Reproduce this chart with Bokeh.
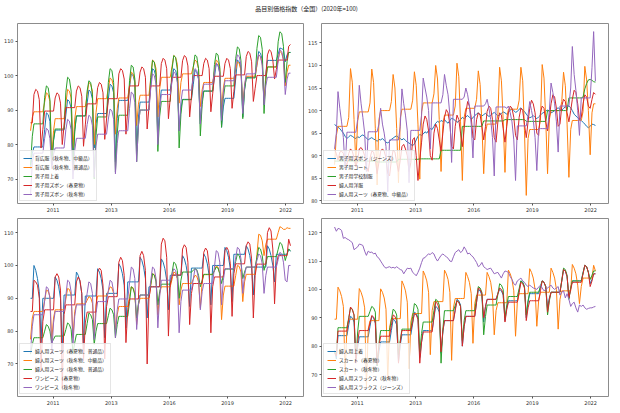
import pandas as pd
from bokeh.plotting import figure
from bokeh.models import Range1d, FixedTicker, Legend, LegendItem, Div
from bokeh.layouts import column, row
from bokeh.embed import file_html
from bokeh.resources import INLINE

# ---------------- data ----------------
months = pd.date_range("2010-01-01", periods=148, freq="MS")
x_days = [int(v) for v in (months - pd.Timestamp("1970-01-01")).days]

tick_days = [15000, 16000, 17000, 18000, 19000]
tick_labels = ["2011", "2013", "2016", "2019", "2022"]

title_text = "品目別価格指数（全国）(2020年=100)"

# --- top left ---
tl_names = ["背広服（秋冬物、中級品）", "背広服（秋冬物、普通品）", "男子用上着",
            "男子用ズボン（春夏物）", "男子用ズボン（秋冬物）"]
suit_aw_mid = [
    73.0, 77.4, 79.3, 79.3, 79.3, 79.3, 79.3, 79.3, 84.3, 89.2, 88.7, 86.7,
    74.0, 81.1, 84.2, 84.2, 84.2, 84.2, 84.2, 84.2, 88.6, 93.0, 92.5, 90.5,
    75.0, 84.3, 88.3, 88.3, 88.3, 88.3, 88.3, 88.3, 92.0, 95.8, 95.3, 93.3,
    79.0, 86.0, 89.0, 89.0, 89.0, 89.0, 89.0, 89.0, 93.2, 97.5, 97.0, 95.0,
    75.0, 87.5, 92.8, 92.8, 92.8, 92.8, 92.8, 92.8, 96.6, 100.5, 100.0, 98.0,
    78.0, 88.0, 92.3, 92.3, 92.3, 92.3, 92.3, 92.3, 97.1, 102.0, 101.5, 99.5,
    82.0, 91.7, 95.8, 95.8, 95.8, 95.8, 95.8, 95.8, 98.9, 102.0, 101.5, 99.5,
    84.0, 90.4, 93.1, 93.1, 93.1, 93.1, 93.1, 93.1, 97.3, 101.5, 101.0, 99.0,
    86.0, 92.7, 95.5, 95.5, 95.5, 95.5, 95.5, 95.5, 99.5, 103.5, 103.0, 101.0,
    85.0, 90.9, 93.4, 93.4, 93.4, 93.4, 93.4, 93.4, 99.0, 104.5, 104.0, 102.0,
    88.0, 96.1, 99.5, 99.5, 99.5, 99.5, 99.5, 99.5, 103.3, 107.0, 106.5, 104.5,
    91.5, 100.5, 104.4, 104.4, 104.4, 104.4, 104.4, 104.4, 106.2, 108.0, 107.8, 107.5,
    104.0, 106.0, 106.7, 106.7]
suit_aw_std = [
    84.0, 87.9, 89.5, 89.5, 89.5, 89.5, 89.5, 89.5, 92.3, 95.0, 94.5, 92.5,
    76.0, 84.0, 87.5, 87.5, 87.5, 87.5, 87.5, 87.5, 91.8, 96.0, 95.5, 93.5,
    79.0, 87.4, 91.0, 91.0, 91.0, 91.0, 91.0, 91.0, 94.5, 98.0, 97.5, 95.5,
    80.0, 89.3, 93.3, 93.3, 93.3, 93.3, 93.3, 93.3, 96.3, 99.3, 98.8, 96.8,
    83.0, 90.4, 93.5, 93.5, 93.5, 93.5, 93.5, 93.5, 97.3, 101.0, 100.5, 98.5,
    85.5, 91.7, 94.3, 94.3, 94.3, 94.3, 94.3, 94.3, 99.4, 104.5, 104.0, 102.0,
    88.0, 96.2, 99.5, 99.5, 99.5, 99.5, 99.5, 99.5, 102.7, 105.8, 105.3, 103.3,
    92.0, 98.0, 100.5, 100.5, 100.5, 100.5, 100.5, 100.5, 102.5, 104.5, 104.0, 102.0,
    91.0, 95.9, 98.0, 98.0, 98.0, 98.0, 98.0, 98.0, 101.3, 104.5, 104.0, 102.0,
    90.0, 96.4, 99.2, 99.2, 99.2, 99.2, 99.2, 99.2, 101.6, 104.0, 103.5, 101.5,
    91.0, 97.2, 99.8, 99.8, 99.8, 99.8, 99.8, 99.8, 102.9, 106.0, 105.5, 103.5,
    92.0, 99.4, 102.5, 102.5, 102.5, 102.5, 102.5, 102.5, 104.8, 107.0, 106.5, 104.5,
    97.0, 101.0, 103.0, 103.0]
mens_jacket = [
    74.0, 82.4, 86.0, 86.0, 86.0, 86.0, 86.0, 86.0, 93.7, 97.0, 96.5, 93.0,
    74.0, 81.4, 84.5, 84.5, 84.5, 84.5, 84.5, 84.5, 95.2, 99.5, 99.0, 95.5,
    73.0, 83.7, 88.3, 88.3, 88.3, 88.3, 88.3, 88.3, 95.5, 98.5, 98.0, 94.5,
    70.0, 82.6, 88.0, 88.0, 88.0, 88.0, 88.0, 88.0, 98.0, 102.0, 101.5, 98.0,
    72.0, 83.2, 88.5, 88.5, 88.5, 88.5, 88.5, 88.5, 98.6, 103.0, 102.5, 99.0,
    75.0, 85.5, 90.0, 90.0, 90.0, 90.0, 90.0, 90.0, 99.4, 104.4, 103.9, 100.4,
    78.0, 88.2, 92.5, 92.5, 92.5, 92.5, 92.5, 92.5, 101.8, 105.8, 105.3, 101.8,
    79.0, 88.8, 93.0, 93.0, 93.0, 93.0, 93.0, 93.0, 102.3, 106.0, 105.5, 102.0,
    82.5, 91.6, 95.5, 95.5, 95.5, 95.5, 95.5, 95.5, 103.2, 106.5, 106.0, 102.5,
    85.0, 93.4, 97.0, 97.0, 97.0, 97.0, 97.0, 97.0, 104.9, 108.3, 107.8, 104.3,
    87.5, 95.8, 99.3, 99.3, 99.3, 99.3, 99.3, 99.3, 107.9, 111.6, 111.1, 107.6,
    89.0, 98.5, 102.5, 102.5, 102.5, 102.5, 102.5, 102.5, 109.8, 112.7, 112.2, 108.5,
    98.0, 104.0, 106.7, 106.7]
mens_trousers_ss = [
    86.3, 86.3, 94.5, 96.0, 95.5, 93.0, 79.0, 84.4, 89.7, 89.7, 89.7, 89.7,
    89.7, 89.7, 93.5, 95.0, 94.5, 92.0, 80.0, 85.4, 90.7, 90.7, 90.7, 90.7,
    90.7, 90.7, 95.5, 97.0, 96.5, 94.0, 79.5, 85.7, 91.8, 91.8, 91.8, 91.8,
    91.8, 91.8, 96.5, 98.0, 97.5, 95.0, 81.5, 87.4, 93.3, 93.3, 93.3, 93.3,
    93.3, 93.3, 100.5, 102.0, 101.5, 99.0, 83.0, 90.0, 97.0, 97.0, 97.0, 97.0,
    97.0, 97.0, 101.0, 102.5, 102.0, 99.5, 84.5, 90.8, 97.0, 97.0, 97.0, 97.0,
    97.0, 97.0, 103.5, 105.0, 104.5, 102.0, 87.5, 93.5, 99.5, 99.5, 99.5, 99.5,
    99.5, 99.5, 104.3, 105.8, 105.3, 102.8, 88.0, 94.0, 100.0, 100.0, 100.0, 100.0,
    100.0, 100.0, 103.5, 105.0, 104.5, 102.0, 89.5, 94.7, 99.8, 99.8, 99.8, 99.8,
    99.8, 99.8, 103.5, 105.0, 104.5, 102.0, 90.5, 95.4, 100.2, 100.2, 100.2, 100.2,
    100.2, 100.2, 105.5, 107.0, 106.5, 104.0, 92.5, 96.3, 100.0, 100.0, 100.0, 100.0,
    100.0, 100.0, 106.0, 107.5, 107.0, 104.5, 99.0, 101.8, 104.5, 104.5, 104.5, 104.5,
    104.5, 104.5, 108.5, 109.0]
mens_trousers_aw = [
    65.3, 74.7, 77.5, 77.5, 77.5, 77.5, 77.5, 77.5, 81.8, 84.7, 84.2, 81.7,
    73.0, 77.2, 79.0, 79.0, 79.0, 79.0, 79.0, 79.0, 84.3, 87.3, 86.8, 84.3,
    70.0, 78.3, 81.8, 81.8, 81.8, 81.8, 81.8, 81.8, 85.8, 88.5, 88.0, 85.5,
    70.5, 79.6, 83.0, 83.0, 83.0, 83.0, 83.0, 83.0, 87.4, 90.3, 89.8, 87.3,
    71.5, 80.3, 84.0, 84.0, 84.0, 84.0, 84.0, 84.0, 90.5, 95.2, 94.7, 92.2,
    75.0, 85.5, 90.0, 90.0, 90.0, 90.0, 90.0, 90.0, 96.3, 100.5, 100.0, 97.5,
    80.0, 90.2, 94.5, 94.5, 94.5, 94.5, 94.5, 94.5, 98.3, 101.0, 100.5, 98.0,
    84.0, 92.3, 95.8, 95.8, 95.8, 95.8, 95.8, 95.8, 99.5, 102.0, 101.5, 99.0,
    86.0, 94.1, 97.5, 97.5, 97.5, 97.5, 97.5, 97.5, 101.1, 103.5, 103.0, 100.5,
    87.0, 95.1, 98.5, 98.5, 98.5, 98.5, 98.5, 98.5, 103.1, 106.0, 105.5, 103.0,
    89.0, 97.1, 100.5, 100.5, 100.5, 100.5, 100.5, 100.5, 103.9, 106.0, 105.5, 103.0,
    91.5, 97.1, 99.5, 99.5, 99.5, 99.5, 99.5, 99.5, 104.3, 107.5, 107.0, 104.5,
    94.5, 99.0, 100.7, 100.7]

# --- top right ---
tr_names = ["男子用ズボン（ジーンズ）", "男子用コート", "男子用学校制服", "婦人用洋服",
            "婦人用スーツ（春夏物、中級品）"]
mens_jeans = [
    96.9, 96.6, 96.3, 96.0, 95.5, 95.0, 94.3, 93.8, 94.2, 94.5, 94.3, 94.0,
    93.8, 94.2, 94.0, 94.4, 94.6, 94.3, 93.9, 93.5, 93.8, 94.0, 93.7, 93.5,
    93.2, 93.6, 93.5, 93.8, 93.4, 93.0, 92.8, 93.2, 93.6, 93.9, 94.2, 94.4,
    94.0, 93.8, 93.5, 93.8, 93.4, 93.0, 92.8, 92.5, 92.2, 92.6, 93.5, 94.3,
    94.7, 94.5, 94.8, 95.3, 95.0, 95.6, 96.0, 95.8, 96.5, 97.2, 97.6, 97.4,
    97.8, 97.6, 98.0, 97.5, 97.2, 97.8, 98.3, 98.1, 97.8, 97.4, 97.6, 98.0,
    98.5, 98.2, 98.6, 98.9, 98.5, 98.1, 98.4, 98.9, 99.2, 99.5, 99.1, 98.8,
    99.1, 99.4, 99.0, 98.7, 98.9, 99.3, 99.6, 99.2, 98.8, 99.0, 99.4, 99.7,
    99.5, 99.2, 99.6, 100.1, 100.4, 100.0, 99.6, 99.8, 100.3, 100.6, 100.2, 99.8,
    99.2, 98.7, 98.4, 98.6, 98.9, 98.5, 98.2, 98.6, 99.0, 99.4, 99.6, 99.9,
    100.1, 99.8, 99.5, 99.7, 100.0, 100.4, 100.6, 100.3, 100.1, 100.5, 100.8, 101.0,
    101.0, 100.6, 100.0, 99.2, 98.8, 98.4, 98.1, 97.8, 97.4, 97.0, 96.5, 96.2,
    96.5, 97.0, 96.9, 96.7]
mens_coat = [
    88.0, 94.5, 96.5, 96.5, 96.5, 96.5, 96.5, 96.5, 98.5, 109.3, 106.3, 98.0,
    88.0, 97.7, 99.7, 99.7, 99.7, 99.7, 99.7, 99.7, 101.7, 109.2, 106.2, 96.0,
    83.5, 98.0, 100.0, 100.0, 100.0, 100.0, 100.0, 100.0, 102.0, 108.0, 105.0, 96.0,
    84.0, 98.3, 100.3, 100.3, 100.3, 100.3, 100.3, 100.3, 102.3, 108.6, 105.6, 97.0,
    84.8, 99.7, 101.7, 101.7, 101.7, 101.7, 101.7, 101.7, 103.7, 110.0, 107.0, 98.0,
    86.5, 97.0, 99.0, 99.0, 99.0, 99.0, 99.0, 99.0, 101.0, 110.5, 107.5, 97.5,
    84.5, 98.5, 100.5, 100.5, 100.5, 100.5, 100.5, 100.5, 102.5, 108.8, 105.8, 97.0,
    86.0, 95.0, 97.0, 97.0, 97.0, 97.0, 97.0, 97.0, 99.0, 109.6, 106.6, 98.0,
    86.3, 98.3, 100.3, 100.3, 100.3, 100.3, 100.3, 100.3, 102.3, 109.6, 106.6, 95.5,
    81.2, 93.8, 95.8, 95.8, 95.8, 95.8, 95.8, 95.8, 97.8, 110.2, 107.2, 98.0,
    86.0, 98.0, 100.0, 100.0, 100.0, 100.0, 100.0, 100.0, 102.0, 108.5, 105.5, 97.0,
    85.2, 95.8, 97.8, 97.8, 97.8, 97.8, 97.8, 97.8, 99.8, 109.8, 106.8, 100.0,
    90.2, 99.5, 101.5, 101.5]
school_uniform = [
    88.8, 88.8, 88.8, 88.8, 88.8, 88.8, 88.8, 88.8, 88.8, 88.8, 88.8, 88.8,
    88.8, 88.8, 88.8, 88.8, 88.8, 88.8, 88.8, 88.8, 88.8, 88.8, 88.8, 88.8,
    88.6, 88.6, 88.6, 88.6, 88.6, 88.6, 88.6, 88.6, 88.6, 88.6, 88.6, 88.6,
    89.2, 89.2, 89.2, 89.2, 89.2, 89.2, 89.2, 89.2, 89.2, 89.2, 89.2, 89.2,
    89.3, 89.3, 89.3, 89.3, 89.3, 89.3, 89.3, 89.3, 89.3, 89.3, 89.3, 89.3,
    91.2, 91.2, 91.2, 91.2, 91.2, 91.2, 91.2, 91.2, 91.2, 91.2, 91.2, 91.2,
    96.5, 96.5, 96.5, 96.5, 96.5, 96.5, 96.5, 96.5, 96.5, 96.5, 96.5, 96.5,
    97.7, 97.7, 97.7, 97.7, 97.7, 97.7, 97.7, 97.7, 97.7, 97.7, 97.7, 97.7,
    98.0, 98.0, 98.0, 98.0, 98.0, 98.0, 98.0, 98.0, 98.0, 98.0, 98.0, 98.0,
    97.6, 97.6, 97.6, 97.6, 97.6, 97.6, 97.6, 97.6, 97.6, 97.6, 97.6, 97.6,
    100.0, 100.0, 100.0, 100.0, 100.0, 100.0, 100.0, 100.0, 100.0, 100.0, 100.0, 100.0,
    102.8, 102.8, 102.8, 102.8, 102.8, 102.8, 102.8, 102.8, 103.0, 104.8, 106.0, 106.8,
    106.9, 106.7, 106.4, 106.3]
womens_clothes = [
    91.3, 90.5, 89.0, 90.8, 91.0, 90.5, 88.5, 88.0, 90.5, 91.5, 91.0, 89.5,
    87.5, 89.0, 91.5, 91.8, 91.2, 90.0, 87.5, 86.5, 89.5, 91.0, 90.8, 89.0,
    86.0, 88.5, 91.0, 91.5, 91.0, 89.5, 86.0, 85.5, 89.0, 91.2, 90.8, 88.5,
    86.5, 89.0, 92.0, 92.5, 91.5, 90.0, 86.5, 88.5, 93.5, 94.0, 90.0, 84.5,
    89.0, 93.0, 97.0, 98.8, 98.0, 95.5, 90.0, 89.0, 95.0, 97.0, 96.0, 93.5,
    91.0, 95.0, 98.5, 100.2, 99.5, 97.0, 92.0, 91.5, 96.5, 99.0, 98.0, 95.0,
    92.0, 96.0, 99.5, 102.0, 101.0, 98.5, 94.0, 93.5, 98.0, 99.5, 99.0, 96.5,
    93.5, 96.5, 99.8, 101.0, 100.5, 98.0, 94.0, 93.0, 97.5, 99.5, 99.0, 96.0,
    93.0, 96.5, 99.5, 101.0, 100.5, 98.5, 94.5, 93.5, 98.5, 100.5, 100.0, 97.0,
    94.0, 97.5, 100.5, 102.3, 101.5, 99.5, 95.0, 94.5, 99.5, 101.0, 100.5, 97.5,
    95.5, 98.5, 101.5, 103.5, 103.0, 100.5, 96.5, 97.0, 101.0, 102.5, 102.0, 99.5,
    97.5, 100.0, 102.5, 104.5, 104.0, 101.5, 98.0, 98.5, 101.5, 103.5, 103.0, 101.0,
    100.5, 102.5, 104.0, 103.6]
womens_suit_ss_mid = [
    91.5, 95.0, 104.2, 100.5, 97.5, 94.0, 87.0, 95.2, 95.2, 95.2, 95.2, 95.2,
    95.2, 98.0, 105.6, 101.5, 98.5, 95.0, 86.5, 95.3, 95.3, 95.3, 95.3, 95.3,
    95.3, 97.0, 100.5, 97.0, 95.0, 92.0, 82.0, 93.5, 93.5, 93.5, 93.5, 93.5,
    93.5, 96.5, 104.8, 101.5, 99.0, 95.5, 84.0, 95.6, 95.6, 95.6, 95.6, 95.6,
    95.6, 99.0, 107.2, 105.0, 103.0, 100.0, 91.5, 101.7, 101.7, 101.7, 101.7, 101.7,
    101.7, 103.5, 108.0, 105.5, 103.5, 99.0, 88.5, 102.5, 102.5, 102.5, 102.5, 102.5,
    102.5, 103.0, 105.0, 103.5, 101.0, 97.0, 89.5, 101.0, 101.0, 101.0, 101.0, 101.0,
    101.0, 101.5, 102.5, 100.5, 98.0, 94.0, 85.5, 100.8, 100.8, 100.8, 100.8, 100.8,
    100.8, 100.5, 101.0, 99.5, 97.5, 93.5, 84.5, 96.6, 96.6, 96.6, 96.6, 96.6,
    96.6, 99.0, 102.0, 100.0, 98.0, 94.0, 86.7, 96.0, 96.0, 96.0, 96.0, 96.0,
    96.0, 100.0, 106.1, 104.0, 101.5, 97.5, 90.8, 101.0, 101.0, 101.0, 101.0, 101.0,
    101.0, 105.0, 114.2, 108.0, 104.5, 100.0, 94.5, 102.8, 102.8, 102.8, 102.8, 102.8,
    102.8, 109.5, 117.5, 106.5]

# --- bottom left ---
bl_names = ["婦人用スーツ（春夏物、普通品）", "婦人用スーツ（秋冬物、中級品）",
            "婦人用スーツ（秋冬物、普通品）", "ワンピース（春夏物）", "ワンピース（秋冬物）"]
womens_suit_ss_std = [
    90.0, 90.0, 100.0, 98.5, 96.0, 92.0, 76.5, 90.0, 90.0, 90.0, 90.0, 90.0,
    90.0, 90.0, 96.5, 95.5, 93.5, 90.0, 73.5, 91.0, 91.0, 91.0, 91.0, 91.0,
    91.0, 91.0, 98.0, 97.0, 95.0, 91.5, 76.0, 90.7, 90.7, 90.7, 90.7, 90.7,
    90.7, 90.7, 99.0, 98.0, 96.0, 92.5, 78.0, 91.5, 91.5, 91.5, 91.5, 91.5,
    91.5, 91.5, 100.5, 99.5, 97.5, 94.0, 81.0, 95.0, 95.0, 95.0, 95.0, 95.0,
    95.0, 95.0, 102.5, 101.5, 99.5, 96.0, 84.0, 93.5, 93.5, 93.5, 93.5, 93.5,
    93.5, 93.5, 102.0, 101.0, 99.0, 95.5, 86.5, 97.0, 97.0, 97.0, 97.0, 97.0,
    97.0, 97.0, 103.0, 102.0, 100.0, 96.5, 87.5, 99.2, 99.2, 99.2, 99.2, 99.2,
    99.2, 99.2, 103.5, 102.5, 100.5, 97.0, 88.0, 100.0, 100.0, 100.0, 100.0, 100.0,
    100.0, 100.0, 105.5, 104.5, 102.5, 99.0, 89.0, 103.4, 103.4, 103.4, 103.4, 103.4,
    103.4, 103.4, 106.0, 105.0, 103.0, 99.5, 91.0, 99.5, 99.5, 99.5, 99.5, 99.5,
    99.5, 99.5, 106.0, 105.0, 103.0, 100.0, 95.0, 103.4, 103.4, 103.4, 103.4, 103.4,
    103.4, 103.4, 105.0, 104.3]
womens_suit_aw_mid = [
    77.5, 84.0, 86.0, 86.0, 86.0, 86.0, 86.0, 86.0, 89.3, 92.5, 92.2, 90.5,
    77.0, 84.0, 86.5, 86.5, 86.5, 86.5, 86.5, 86.5, 89.8, 93.0, 92.7, 91.0,
    78.0, 86.0, 88.3, 88.3, 88.3, 88.3, 88.3, 88.3, 89.4, 90.5, 90.2, 88.5,
    79.0, 88.0, 90.7, 90.7, 90.7, 90.7, 90.7, 90.7, 92.1, 93.5, 93.2, 91.5,
    80.5, 85.0, 87.5, 87.5, 87.5, 87.5, 87.5, 87.5, 90.5, 93.5, 93.2, 91.5,
    82.0, 88.0, 90.0, 90.0, 90.0, 90.0, 90.0, 90.0, 93.8, 97.5, 97.2, 95.5,
    85.0, 91.5, 93.5, 93.5, 93.5, 93.5, 93.5, 93.5, 95.8, 98.0, 97.7, 96.0,
    88.0, 92.5, 94.5, 94.5, 94.5, 94.5, 94.5, 94.5, 95.8, 97.0, 96.7, 95.0,
    87.0, 95.0, 97.2, 97.2, 97.2, 97.2, 97.2, 97.2, 98.5, 99.8, 99.5, 97.5,
    83.5, 91.0, 93.7, 93.7, 93.7, 93.7, 93.7, 93.7, 96.9, 100.0, 99.7, 98.0,
    89.0, 95.0, 97.3, 97.3, 97.3, 97.3, 97.3, 97.3, 103.4, 109.5, 109.2, 107.5,
    103.0, 106.5, 108.0, 108.0, 108.0, 108.0, 108.0, 108.0, 110.0, 111.8, 111.5, 111.0,
    111.0, 111.5, 111.3, 111.3]
womens_suit_aw_std = [
    73.0, 76.0, 78.0, 78.0, 78.0, 78.0, 78.0, 78.0, 80.0, 82.0, 81.5, 80.0,
    76.5, 77.5, 78.5, 78.5, 78.5, 78.5, 78.5, 78.5, 80.5, 82.5, 82.0, 80.5,
    73.3, 76.5, 79.0, 79.0, 79.0, 79.0, 79.0, 79.0, 82.3, 85.5, 85.0, 83.5,
    76.0, 80.0, 82.3, 82.3, 82.3, 82.3, 82.3, 82.3, 84.7, 87.0, 86.5, 85.0,
    78.0, 82.0, 84.5, 84.5, 84.5, 84.5, 84.5, 84.5, 89.0, 93.5, 93.0, 91.0,
    84.0, 88.5, 91.0, 91.0, 91.0, 91.0, 91.0, 91.0, 94.3, 97.5, 97.0, 95.0,
    88.0, 92.0, 94.3, 94.3, 94.3, 94.3, 94.3, 94.3, 97.7, 101.0, 100.5, 98.5,
    90.0, 95.5, 98.0, 98.0, 98.0, 98.0, 98.0, 98.0, 98.5, 99.0, 98.7, 97.0,
    93.5, 95.5, 97.3, 97.3, 97.3, 97.3, 97.3, 97.3, 98.4, 99.5, 99.2, 97.5,
    94.5, 97.0, 98.9, 98.9, 98.9, 98.9, 98.9, 98.9, 101.2, 103.5, 103.0, 101.0,
    96.0, 98.0, 99.5, 99.5, 99.5, 99.5, 99.5, 99.5, 102.5, 105.5, 105.0, 103.0,
    98.5, 100.5, 102.7, 102.7, 102.7, 102.7, 102.7, 102.7, 104.9, 107.0, 106.5, 104.5,
    101.5, 103.5, 105.0, 104.5]
dress_ss = [
    86.0, 86.0, 95.5, 95.0, 94.0, 90.0, 68.0, 83.0, 86.5, 86.5, 86.5, 86.5,
    86.5, 86.5, 96.5, 97.5, 96.5, 92.5, 62.6, 85.0, 88.0, 88.0, 88.0, 88.0,
    88.0, 88.0, 95.0, 96.5, 95.5, 91.5, 71.0, 82.5, 85.8, 85.8, 85.8, 85.8,
    85.8, 85.8, 98.0, 99.2, 98.5, 94.0, 71.5, 87.5, 90.5, 90.5, 90.5, 90.5,
    90.5, 90.5, 101.0, 102.5, 101.5, 97.0, 76.5, 86.5, 89.8, 89.8, 89.8, 89.8,
    89.8, 89.8, 103.0, 104.3, 103.0, 98.5, 70.0, 90.0, 93.5, 93.5, 93.5, 93.5,
    93.5, 93.5, 106.5, 108.3, 107.5, 102.5, 78.5, 94.0, 97.1, 97.1, 97.1, 97.1,
    97.1, 97.1, 105.0, 106.3, 105.5, 101.0, 82.0, 91.5, 94.5, 94.5, 94.5, 94.5,
    94.5, 94.5, 104.0, 105.3, 104.5, 100.0, 79.5, 93.5, 96.5, 96.5, 96.5, 96.5,
    96.5, 96.5, 104.5, 105.5, 104.5, 100.5, 84.5, 97.5, 100.5, 100.5, 100.5, 100.5,
    100.5, 100.5, 106.0, 107.2, 106.5, 102.0, 84.0, 97.0, 100.4, 100.4, 100.4, 100.4,
    100.4, 100.4, 110.0, 111.5, 110.5, 105.0, 88.3, 100.0, 103.0, 103.0, 103.0, 103.0,
    103.0, 103.0, 108.0, 106.0]
dress_aw = [
    73.5, 81.5, 85.0, 85.0, 85.0, 85.0, 85.0, 85.0, 89.3, 93.5, 93.0, 90.0,
    73.0, 82.5, 86.0, 86.0, 86.0, 86.0, 86.0, 86.0, 90.8, 95.5, 95.0, 92.0,
    76.0, 84.5, 88.0, 88.0, 88.0, 88.0, 88.0, 88.0, 91.5, 95.0, 94.5, 91.5,
    77.5, 85.5, 89.0, 89.0, 89.0, 89.0, 89.0, 89.0, 92.3, 95.5, 95.0, 92.0,
    78.0, 86.5, 89.8, 89.8, 89.8, 89.8, 89.8, 89.8, 94.7, 99.5, 99.0, 96.0,
    80.5, 88.0, 91.0, 91.0, 91.0, 91.0, 91.0, 91.0, 95.3, 99.5, 99.0, 96.0,
    81.0, 90.5, 95.5, 95.5, 95.5, 95.5, 95.5, 95.5, 97.3, 99.0, 98.5, 96.0,
    79.5, 89.0, 92.5, 92.5, 92.5, 92.5, 92.5, 92.5, 95.8, 99.0, 98.5, 96.0,
    86.5, 92.0, 94.5, 94.5, 94.5, 94.5, 94.5, 94.5, 99.5, 104.5, 104.0, 101.0,
    88.0, 95.5, 99.0, 99.0, 99.0, 99.0, 99.0, 99.0, 102.3, 105.5, 105.0, 102.0,
    91.5, 97.0, 99.5, 99.5, 99.5, 99.5, 99.5, 99.5, 101.5, 103.5, 103.0, 100.5,
    91.5, 97.0, 99.5, 99.5, 99.5, 99.5, 99.5, 99.5, 101.8, 104.0, 103.5, 101.0,
    95.5, 95.0, 100.0, 100.0]

# --- bottom right ---
br_names = ["婦人用上着", "スカート（春夏物）", "スカート（秋冬物）",
            "婦人用スラックス（秋冬物）", "婦人用スラックス（ジーンズ）"]
womens_jacket = [
    78.5, 75.5, 83.7, 83.7, 83.7, 83.7, 83.7, 83.7, 87.5, 90.5, 90.0, 88.5,
    74.5, 79.5, 83.3, 83.3, 83.3, 83.3, 83.3, 83.3, 87.0, 90.5, 90.0, 88.0,
    73.0, 78.0, 81.5, 81.5, 81.5, 81.5, 81.5, 81.5, 85.5, 89.5, 89.0, 87.5,
    74.5, 80.5, 84.0, 84.0, 84.0, 84.0, 84.0, 84.0, 88.0, 92.0, 91.5, 90.0,
    76.0, 81.5, 85.5, 85.5, 85.5, 85.5, 85.5, 85.5, 90.0, 94.0, 93.5, 92.0,
    77.5, 85.0, 89.0, 89.0, 89.0, 89.0, 89.0, 89.0, 93.0, 96.5, 96.0, 94.5,
    80.0, 87.0, 90.5, 90.5, 90.5, 90.5, 90.5, 90.5, 95.5, 100.0, 99.5, 98.0,
    88.5, 94.0, 96.5, 96.5, 96.5, 96.5, 96.5, 96.5, 98.5, 100.0, 99.5, 98.0,
    89.0, 93.5, 96.0, 96.0, 96.0, 96.0, 96.0, 96.0, 99.5, 103.0, 102.5, 101.0,
    90.0, 95.5, 98.5, 98.5, 98.5, 98.5, 98.5, 98.5, 101.0, 103.0, 102.5, 101.0,
    93.5, 97.0, 99.0, 99.0, 99.0, 99.0, 99.0, 99.0, 103.0, 107.0, 106.5, 104.5,
    97.0, 100.5, 103.0, 103.0, 103.0, 103.0, 103.0, 103.0, 106.0, 108.5, 108.0, 106.0,
    102.0, 103.5, 105.5, 105.5]
skirt_ss = [
    89.5, 89.5, 100.8, 99.5, 97.5, 94.0, 70.0, 86.5, 89.5, 89.5, 89.5, 89.5,
    89.5, 89.5, 100.3, 99.0, 97.0, 93.5, 65.1, 86.0, 89.0, 89.0, 89.0, 89.0,
    89.0, 89.0, 100.2, 99.0, 97.0, 93.0, 68.0, 86.5, 89.7, 89.7, 89.7, 89.7,
    89.7, 89.7, 103.0, 101.5, 99.5, 95.5, 72.0, 88.5, 91.5, 91.5, 91.5, 91.5,
    91.5, 91.5, 106.5, 105.0, 103.0, 99.0, 77.0, 92.5, 95.7, 95.7, 95.7, 95.7,
    95.7, 95.7, 106.8, 105.5, 103.5, 99.0, 75.0, 93.5, 96.8, 96.8, 96.8, 96.8,
    96.8, 96.8, 106.0, 104.5, 102.5, 98.5, 81.0, 95.0, 98.0, 98.0, 98.0, 98.0,
    98.0, 98.0, 106.0, 104.5, 102.5, 98.0, 84.0, 92.5, 95.3, 95.3, 95.3, 95.3,
    95.3, 95.3, 106.8, 105.5, 103.5, 99.5, 83.5, 95.5, 98.5, 98.5, 98.5, 98.5,
    98.5, 98.5, 107.3, 106.0, 104.0, 100.0, 87.0, 96.0, 99.0, 99.0, 99.0, 99.0,
    99.0, 99.0, 107.5, 106.0, 104.0, 100.0, 86.0, 96.5, 99.5, 99.5, 99.5, 99.5,
    99.5, 99.5, 108.8, 107.5, 105.5, 101.5, 95.0, 101.0, 104.0, 104.0, 104.0, 104.0,
    104.0, 104.0, 108.5, 106.5]
skirt_aw = [
    78.0, 77.0, 86.5, 86.5, 86.5, 86.5, 86.5, 86.5, 90.0, 93.5, 93.0, 91.0,
    75.0, 85.0, 90.5, 90.5, 90.5, 90.5, 90.5, 90.5, 92.3, 94.0, 93.5, 92.0,
    73.0, 81.0, 85.5, 85.5, 85.5, 85.5, 85.5, 85.5, 89.3, 93.0, 92.5, 91.0,
    77.0, 82.0, 86.0, 86.0, 86.0, 86.0, 86.0, 86.0, 90.5, 95.0, 94.5, 93.0,
    78.0, 84.5, 88.5, 88.5, 88.5, 88.5, 88.5, 88.5, 92.5, 96.5, 96.0, 94.5,
    74.0, 86.0, 92.5, 92.5, 92.5, 92.5, 92.5, 92.5, 94.3, 96.0, 95.5, 94.0,
    82.0, 89.0, 92.5, 92.5, 92.5, 92.5, 92.5, 92.5, 96.8, 101.0, 100.5, 99.0,
    84.0, 90.5, 94.5, 94.5, 94.5, 94.5, 94.5, 94.5, 98.3, 102.0, 101.5, 100.0,
    90.0, 94.5, 97.5, 97.5, 97.5, 97.5, 97.5, 97.5, 100.3, 103.0, 102.5, 101.0,
    91.0, 96.0, 99.0, 99.0, 99.0, 99.0, 99.0, 99.0, 101.0, 103.0, 102.5, 101.0,
    91.0, 96.0, 99.0, 99.0, 99.0, 99.0, 99.0, 99.0, 103.3, 107.5, 107.0, 105.0,
    96.5, 100.5, 103.0, 103.0, 103.0, 103.0, 103.0, 103.0, 105.8, 108.5, 108.0, 106.0,
    103.5, 105.0, 106.5, 106.5]
slacks_aw = [
    77.5, 76.5, 85.3, 85.3, 85.3, 85.3, 85.3, 85.3, 89.5, 93.8, 93.0, 91.0,
    74.0, 81.5, 85.5, 85.5, 85.5, 85.5, 85.5, 85.5, 88.2, 90.8, 90.3, 88.5,
    73.5, 80.0, 83.5, 83.5, 83.5, 83.5, 83.5, 83.5, 87.3, 91.0, 90.5, 89.0,
    74.0, 81.5, 85.5, 85.5, 85.5, 85.5, 85.5, 85.5, 88.5, 91.5, 91.0, 89.5,
    74.0, 81.5, 85.0, 85.0, 85.0, 85.0, 85.0, 85.0, 90.3, 95.5, 95.0, 93.0,
    78.0, 85.5, 89.0, 89.0, 89.0, 89.0, 89.0, 89.0, 92.5, 96.0, 95.5, 94.0,
    80.0, 87.0, 90.5, 90.5, 90.5, 90.5, 90.5, 90.5, 95.5, 100.5, 100.0, 98.5,
    90.0, 94.0, 96.5, 96.5, 96.5, 96.5, 96.5, 96.5, 98.5, 100.5, 100.0, 98.5,
    88.5, 93.0, 95.5, 95.5, 95.5, 95.5, 95.5, 95.5, 99.0, 102.5, 102.0, 100.5,
    89.0, 93.5, 96.0, 96.0, 96.0, 96.0, 96.0, 96.0, 99.5, 103.0, 102.5, 101.0,
    92.0, 96.5, 99.0, 99.0, 99.0, 99.0, 99.0, 99.0, 103.0, 107.0, 106.5, 104.5,
    97.0, 100.0, 102.5, 102.5, 102.5, 102.5, 102.5, 102.5, 105.5, 108.5, 108.0, 106.0,
    101.0, 103.0, 105.5, 105.5]
slacks_jeans = [
    122.0, 120.5, 121.5, 121.3, 120.8, 118.0, 118.3, 117.8, 117.5, 117.0, 116.5, 114.0,
    114.5, 115.0, 116.0, 115.8, 115.5, 113.5, 112.0, 113.5, 113.0, 113.2, 112.5, 112.8,
    111.5, 111.0, 110.0, 109.0, 108.0, 107.5, 107.8, 108.0, 107.6, 107.8, 107.5, 108.0,
    107.5, 107.0, 106.8, 105.5, 106.5, 107.5, 107.3, 107.5, 106.0, 105.5, 104.8, 106.0,
    107.5, 109.5, 111.0, 111.2, 112.0, 112.5, 112.3, 113.0, 112.5, 111.0, 110.0, 111.0,
    112.0, 112.5, 112.0, 111.5, 111.0, 110.0, 109.8, 111.5, 113.0, 113.5, 114.0, 113.0,
    113.5, 115.0, 114.0, 112.5, 112.8, 112.0, 111.5, 110.5, 109.5, 108.0, 108.5, 109.5,
    108.0, 107.5, 107.0, 107.3, 107.5, 106.5, 105.5, 105.8, 106.0, 105.0, 104.0, 105.5,
    106.5, 106.3, 106.0, 104.5, 103.5, 102.0, 101.5, 103.0, 103.5, 104.0, 103.0, 102.5,
    101.5, 101.0, 101.5, 101.0, 100.5, 100.3, 100.0, 100.8, 101.5, 100.5, 99.5, 100.0,
    100.5, 101.0, 101.5, 100.5, 100.0, 100.5, 101.0, 98.0, 99.0, 99.5, 97.0, 98.5,
    96.5, 94.0, 95.0, 95.5, 93.5, 92.0, 94.5, 94.0, 94.5, 93.5, 93.0, 93.3,
    93.5, 93.5, 93.8, 94.0]

for arr in [suit_aw_mid, suit_aw_std, mens_jacket, mens_trousers_ss, mens_trousers_aw,
            mens_jeans, mens_coat, school_uniform, womens_clothes, womens_suit_ss_mid,
            womens_suit_ss_std, womens_suit_aw_mid, womens_suit_aw_std, dress_ss, dress_aw,
            womens_jacket, skirt_ss, skirt_aw, slacks_aw, slacks_jeans]:
    assert len(arr) == 148, len(arr)

# ---------------- drawing ----------------
COLORS = ["#1f77b4", "#ff7f0e", "#2ca02c", "#d62728", "#9467bd"]
JP_FONT = "Noto Sans CJK JP"
TICK_FONT = "DejaVu Sans"


def make_panel(names, series, y_lo, y_hi, y_ticks, fw, fh, bl, br, bt, bb):
    p = figure(frame_width=fw, frame_height=fh,
               x_range=Range1d(14386, 19307), y_range=Range1d(y_lo, y_hi),
               output_backend="svg", toolbar_location=None,
               min_border_left=bl, min_border_right=br,
               min_border_top=bt, min_border_bottom=bb)
    p.xgrid.visible = False
    p.ygrid.visible = False
    p.outline_line_color = "#8c8c8c"
    p.outline_line_width = 1
    p.background_fill_color = "white"
    p.border_fill_color = "white"

    p.xaxis.ticker = FixedTicker(ticks=tick_days)
    p.xaxis.major_label_overrides = {d: lab for d, lab in zip(tick_days, tick_labels)}
    p.yaxis.ticker = FixedTicker(ticks=y_ticks)
    for ax in (p.xaxis[0], p.yaxis[0]):
        ax.axis_line_color = None
        ax.major_tick_line_color = "#555555"
        ax.major_tick_out = 2
        ax.major_tick_in = 0
        ax.minor_tick_line_color = None
        ax.major_label_text_font = TICK_FONT
        ax.major_label_text_font_size = "5px"
        ax.major_label_text_color = "#333333"
        ax.major_label_standoff = 2

    items = []
    for name, ys, col in zip(names, series, COLORS):
        r = p.line(x_days, ys, line_color=col, line_width=1)
        items.append(LegendItem(label=name, renderers=[r]))
    leg = Legend(items=items, location="bottom_left",
                 label_text_font=JP_FONT, label_text_font_size="4.8px",
                 label_text_color="#222222",
                 glyph_width=9, glyph_height=6, label_height=6,
                 label_standoff=3, spacing=2, padding=3, margin=2,
                 border_line_color="#cccccc", border_line_width=1,
                 background_fill_alpha=0.8)
    p.add_layout(leg)
    return p


tl = make_panel(tl_names, [suit_aw_mid, suit_aw_std, mens_jacket, mens_trousers_ss, mens_trousers_aw],
                62.9, 115.1, [70, 80, 90, 100, 110], 286, 180, 14, 1, 1, 14)
tr = make_panel(tr_names, [mens_jeans, mens_coat, school_uniform, womens_clothes, womens_suit_ss_mid],
                79.4, 119.3, [80, 85, 90, 95, 100, 105, 110, 115], 287, 180, 14, 1, 1, 14)
bl = make_panel(bl_names, [womens_suit_ss_std, womens_suit_aw_mid, womens_suit_aw_std, dress_ss, dress_aw],
                60.1, 114.3, [70, 80, 90, 100, 110], 286, 178, 14, 1, 1, 10)
br = make_panel(br_names, [womens_jacket, skirt_ss, skirt_aw, slacks_aw, slacks_jeans],
                62.25, 125.0, [70, 80, 90, 100, 110, 120], 287, 178, 14, 1, 1, 10)

title = Div(text=title_text, width=603, height=12,
            styles={"font-size": "6px", "line-height": "8px", "text-align": "center",
                    "font-family": JP_FONT, "color": "#222222", "width": "603px"})

layout = column(title, row(tl, tr), row(bl, br))

with open("out.html", "w") as f:
    f.write(file_html(layout, INLINE))
